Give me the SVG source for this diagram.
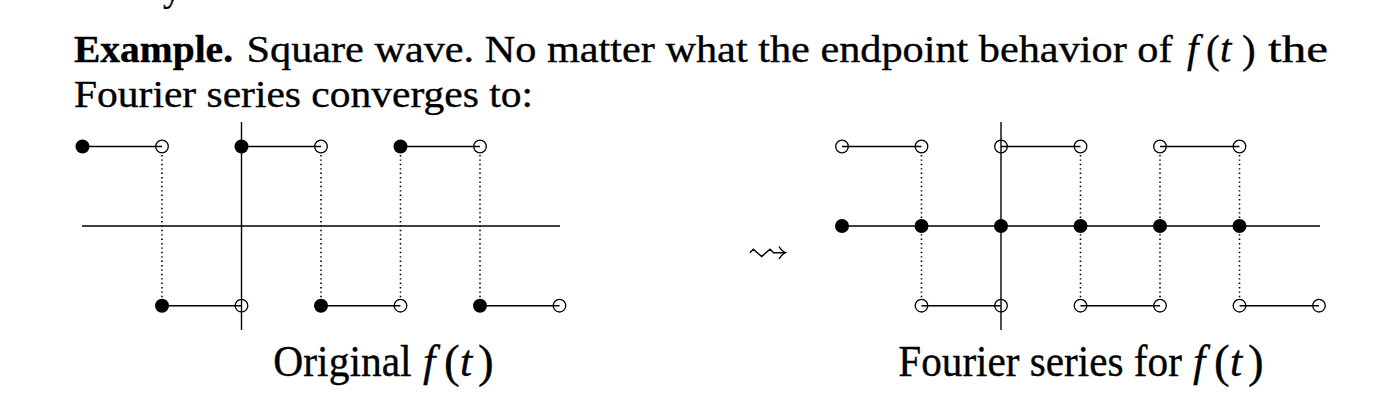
<svg xmlns="http://www.w3.org/2000/svg" width="1382" height="402" viewBox="0 0 1382 402">
<style>
  .t{font-family:"Liberation Serif","Times New Roman",serif;fill:#000;stroke:#000;stroke-width:0.35}
  .b{font-size:37px}
  .bp{font-size:41px}
  .c{font-size:44px}
  .cp{font-size:47px}
  .bold{font-weight:bold}
  .it{font-style:italic}
  .ax{stroke:#000;stroke-width:1.4;fill:none}
  .seg{stroke:#000;stroke-width:1.4;fill:none}
  .dt{stroke:#000;stroke-width:1.6;stroke-dasharray:1.4 3;fill:none}
  .f{fill:#000}
  .o{fill:none;stroke:#000;stroke-width:1.3}
</style>
<rect width="1382" height="402" fill="#fff"/>
<g id="body-text">
  <text class="t b" x="163" y="1">y</text>
  <text class="t b bold" x="74" y="62" textLength="159" lengthAdjust="spacingAndGlyphs">Example.</text>
  <text class="t b" x="246.5" y="62" textLength="926" lengthAdjust="spacingAndGlyphs">Square wave. No matter what the endpoint behavior of</text>
  <text class="t bp" y="62"><tspan class="it" x="1187" y="62">f</tspan><tspan x="1206" y="63">(</tspan><tspan class="it" x="1220" y="62">t</tspan><tspan x="1242" y="63">)</tspan></text>
  <text class="t b" x="1268" y="62" textLength="60" lengthAdjust="spacingAndGlyphs">the</text>
  <text class="t b" x="74" y="107" textLength="459" lengthAdjust="spacingAndGlyphs">Fourier series converges to:</text>
</g>
<g id="plot-original">
  <g class="axes">
    <line class="ax" x1="82" y1="226" x2="560" y2="226"/>
    <line class="ax" x1="241.5" y1="122" x2="241.5" y2="330"/>
  </g>
  <g class="connectors">
    <line class="seg" x1="82.5" y1="146.5" x2="162" y2="146.5"/>
    <line class="seg" x1="241.5" y1="146.5" x2="321" y2="146.5"/>
    <line class="seg" x1="400.5" y1="146.5" x2="480" y2="146.5"/>
    <line class="seg" x1="162" y1="305.7" x2="241.5" y2="305.7"/>
    <line class="seg" x1="321" y1="305.7" x2="400.5" y2="305.7"/>
    <line class="seg" x1="480" y1="305.7" x2="559.5" y2="305.7"/>
    <line class="dt" x1="162" y1="155" x2="162" y2="298"/>
    <line class="dt" x1="321" y1="155" x2="321" y2="298"/>
    <line class="dt" x1="400.5" y1="155" x2="400.5" y2="298"/>
    <line class="dt" x1="480" y1="155" x2="480" y2="298"/>
  </g>
  <g class="points">
    <circle class="f" cx="82.5" cy="146.5" r="7"/>
    <circle class="f" cx="241.5" cy="146.5" r="7"/>
    <circle class="f" cx="400.5" cy="146.5" r="7"/>
    <circle class="f" cx="162" cy="305.7" r="7"/>
    <circle class="f" cx="321" cy="305.7" r="7"/>
    <circle class="f" cx="480" cy="305.7" r="7"/>
    <circle class="o" cx="162" cy="146.5" r="6.3"/>
    <circle class="o" cx="321" cy="146.5" r="6.3"/>
    <circle class="o" cx="480" cy="146.5" r="6.3"/>
    <circle class="o" cx="241.5" cy="305.7" r="6.3"/>
    <circle class="o" cx="400.5" cy="305.7" r="6.3"/>
    <circle class="o" cx="559.5" cy="305.7" r="6.3"/>
  </g>
  <g class="caption">
    <text class="t c" transform="translate(273.3,376) scale(0.944,1)">Original</text>
    <text class="t c" y="376"><tspan class="it" x="423" y="376">f</tspan><tspan class="cp" x="444" y="377">(</tspan><tspan class="it" x="460" y="376">t</tspan><tspan class="cp" x="478" y="377">)</tspan></text>
  </g>
</g>
<g id="arrow">
  <path class="seg" d="M750,252.7 L753.3,249.3 L761.7,256.5 L770,249.3 L773.5,252.7 L785,252.7"/>
  <path class="seg" d="M779,246.5 Q782,251.5 785.5,252.7 Q782,254 779,259"/>
</g>
<g id="plot-fourier">
  <g class="axes">
    <line class="ax" x1="841" y1="226" x2="1320" y2="226"/>
    <line class="ax" x1="1001" y1="122" x2="1001" y2="330"/>
  </g>
  <g class="connectors">
    <line class="seg" x1="842" y1="146.5" x2="921.5" y2="146.5"/>
    <line class="seg" x1="1001" y1="146.5" x2="1080.5" y2="146.5"/>
    <line class="seg" x1="1160" y1="146.5" x2="1239.5" y2="146.5"/>
    <line class="seg" x1="921.5" y1="305.7" x2="1001" y2="305.7"/>
    <line class="seg" x1="1080.5" y1="305.7" x2="1160" y2="305.7"/>
    <line class="seg" x1="1239.5" y1="305.7" x2="1319" y2="305.7"/>
    <line class="dt" x1="921.5" y1="155" x2="921.5" y2="298"/>
    <line class="dt" x1="1080.5" y1="155" x2="1080.5" y2="298"/>
    <line class="dt" x1="1160" y1="155" x2="1160" y2="298"/>
    <line class="dt" x1="1239.5" y1="155" x2="1239.5" y2="298"/>
  </g>
  <g class="points">
    <circle class="o" cx="842" cy="146.5" r="6.3"/>
    <circle class="o" cx="921.5" cy="146.5" r="6.3"/>
    <circle class="o" cx="1001" cy="146.5" r="6.3"/>
    <circle class="o" cx="1080.5" cy="146.5" r="6.3"/>
    <circle class="o" cx="1160" cy="146.5" r="6.3"/>
    <circle class="o" cx="1239.5" cy="146.5" r="6.3"/>
    <circle class="o" cx="921.5" cy="305.7" r="6.3"/>
    <circle class="o" cx="1001" cy="305.7" r="6.3"/>
    <circle class="o" cx="1080.5" cy="305.7" r="6.3"/>
    <circle class="o" cx="1160" cy="305.7" r="6.3"/>
    <circle class="o" cx="1239.5" cy="305.7" r="6.3"/>
    <circle class="o" cx="1319" cy="305.7" r="6.3"/>
    <circle class="f" cx="842" cy="226" r="7"/>
    <circle class="f" cx="921.5" cy="226" r="7"/>
    <circle class="f" cx="1001" cy="226" r="7"/>
    <circle class="f" cx="1080.5" cy="226" r="7"/>
    <circle class="f" cx="1160" cy="226" r="7"/>
    <circle class="f" cx="1239.5" cy="226" r="7"/>
  </g>
  <g class="caption">
    <text class="t c" transform="translate(898.3,376) scale(0.936,1)">Fourier series for</text>
    <text class="t c" y="376"><tspan class="it" x="1193" y="376">f</tspan><tspan class="cp" x="1214" y="377">(</tspan><tspan class="it" x="1230" y="376">t</tspan><tspan class="cp" x="1248" y="377">)</tspan></text>
  </g>
</g>
</svg>
